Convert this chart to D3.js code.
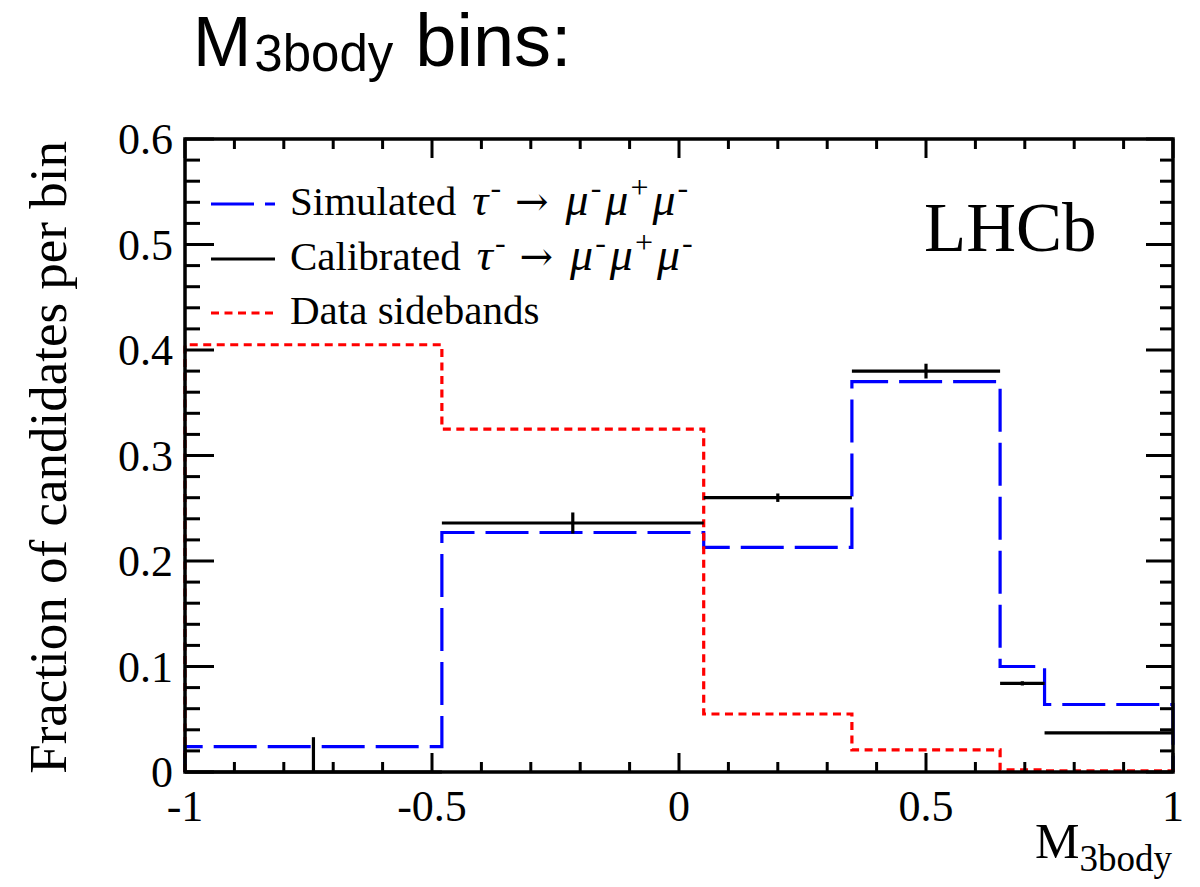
<!DOCTYPE html>
<html>
<head>
<meta charset="utf-8">
<script src="https://cdn.jsdelivr.net/npm/d3@7"></script>
<style>
  html, body { margin: 0; padding: 0; background: #fff; }
  svg { display: block; }
</style>
</head>
<body>
<div id="chart"></div>
<script>
// ---- data ----
const binEdges      = [-1, -0.48, 0.05, 0.35, 0.65, 0.74, 1];
const simulated     = [0.024, 0.227, 0.213, 0.370, 0.100, 0.064];
const calibrated    = [0.000, 0.236, 0.260, 0.380, 0.084, 0.037];
const calibratedErr = [0.033, 0.010, 0.004, 0.007, 0.002, 0.001];
const sidebands     = [0.405, 0.325, 0.055, 0.021, 0.002, 0.001];
const xTickValues   = [-1, -0.5, 0, 0.5, 1];
const xTickLabels   = ["-1", "-0.5", "0", "0.5", "1"];
const yTickValues   = [0, 0.1, 0.2, 0.3, 0.4, 0.5, 0.6];
const yTickLabels   = ["0", "0.1", "0.2", "0.3", "0.4", "0.5", "0.6"];

const W = 1200, H = 887;
const svg = d3.select("#chart").append("svg").attr("width", W).attr("height", H);
svg.append("rect").attr("width", W).attr("height", H).attr("fill", "#fff");

const pLeft = 185, pRight = 1173, pTop = 139, pBottom = 772;
const x = d3.scaleLinear().domain([-1, 1]).range([pLeft, pRight]);
const y = d3.scaleLinear().domain([0, 0.6]).range([pBottom, pTop]);

const serif = "'Liberation Serif', 'Times New Roman', serif";
const sans = "'Liberation Sans', Arial, Helvetica, sans-serif";

// ---- histogram outlines ----
function histPath(vals) {
  const pts = [[binEdges[0], 0]];
  vals.forEach((v, i) => { pts.push([binEdges[i], v]); pts.push([binEdges[i + 1], v]); });
  pts.push([binEdges[binEdges.length - 1], 0]);
  return d3.line().x(d => x(d[0])).y(d => y(d[1]))(pts);
}

const plot = svg.append("g");
plot.append("path").attr("d", histPath(simulated))
  .attr("fill", "none").attr("stroke", "#0000ff").attr("stroke-width", 3.2)
  .attr("stroke-dasharray", "43,11");
plot.append("path").attr("d", histPath(sidebands))
  .attr("fill", "none").attr("stroke", "#ff0000").attr("stroke-width", 3.2)
  .attr("stroke-dasharray", "8,5.5");

// calibrated: horizontal bin-width bars + vertical error bars
const cal = plot.append("g").attr("stroke", "#000").attr("stroke-width", 3.2);
calibrated.forEach((v, i) => {
  const x0 = binEdges[i], x1 = binEdges[i + 1], xc = (x0 + x1) / 2;
  cal.append("line").attr("x1", x(x0)).attr("x2", x(x1)).attr("y1", y(v)).attr("y2", y(v));
  cal.append("line").attr("x1", x(xc)).attr("x2", x(xc))
    .attr("y1", y(Math.max(0, v - calibratedErr[i]))).attr("y2", y(v + calibratedErr[i]));
});

// ---- frame & ticks ----
const axes = svg.append("g").attr("stroke", "#000").attr("stroke-width", 3);
const yMinor = d3.range(0, 0.6001, 0.02);
yMinor.forEach(v => {
  const major = Math.abs(Math.round(v * 10) - v * 10) < 1e-6;
  const lenL = major ? 29 : 15, lenR = major ? 27 : 13;
  axes.append("line").attr("x1", pLeft).attr("x2", pLeft + lenL).attr("y1", y(v)).attr("y2", y(v));
  axes.append("line").attr("x1", pRight).attr("x2", pRight - lenR).attr("y1", y(v)).attr("y2", y(v));
});
const xMinor = d3.range(-1, 1.0001, 0.1);
xMinor.forEach(v => {
  const major = Math.abs(Math.round(v * 2) - v * 2) < 1e-6;
  const len = major ? 19 : 10;
  axes.append("line").attr("x1", x(v)).attr("x2", x(v)).attr("y1", pBottom).attr("y2", pBottom - len);
  axes.append("line").attr("x1", x(v)).attr("x2", x(v)).attr("y1", pTop).attr("y2", pTop + len);
});
svg.append("rect").attr("x", pLeft).attr("y", pTop).attr("width", pRight - pLeft).attr("height", pBottom - pTop)
  .attr("fill", "none").attr("stroke", "#000").attr("stroke-width", 3.5);

// ---- tick labels ----
const yl = svg.append("g").attr("font-family", serif).attr("font-size", 44).attr("fill", "#000");
yTickValues.forEach((v, i) => {
  yl.append("text").attr("x", 173).attr("y", y(v) + 15).attr("text-anchor", "end").text(yTickLabels[i]);
});
const xl = svg.append("g").attr("font-family", serif).attr("font-size", 44).attr("fill", "#000");
xTickValues.forEach((v, i) => {
  xl.append("text").attr("x", x(v)).attr("y", 821).attr("text-anchor", "middle").text(xTickLabels[i]);
});

// ---- axis titles ----
svg.append("text").attr("transform", "translate(66,141) rotate(-90)")
  .attr("text-anchor", "end").attr("font-family", serif).attr("font-size", 53)
  .text("Fraction of candidates per bin");

const xt = svg.append("text").attr("x", 1172).attr("y", 858).attr("text-anchor", "end")
  .attr("font-family", serif).attr("font-size", 50);
xt.append("tspan").text("M");
xt.append("tspan").attr("font-size", 37).attr("dy", 13).text("3body");

// ---- title ----
const tt = svg.append("text").attr("x", 193).attr("y", 66).attr("font-family", sans).attr("font-size", 70);
tt.append("tspan").text("M");
tt.append("tspan").attr("dx", 3).attr("font-size", 51).attr("dy", 5).text("3body");
tt.append("tspan").attr("dx", 22).attr("font-size", 74).attr("dy", -5).text("bins:");

// ---- LHCb label ----
svg.append("text").attr("x", 924).attr("y", 251).attr("font-family", serif).attr("font-size", 69).text("LHCb");

// ---- legend ----
const legend = [
  { name: "Simulated", color: "#0000ff", dash: "43,11", decay: true },
  { name: "Calibrated", color: "#000", dash: null, decay: true },
  { name: "Data sidebands", color: "#ff0000", dash: "8,5.5", decay: false }
];
const legY = [204, 259, 313];
legend.forEach((d, i) => {
  const ly = legY[i];
  svg.append("line").attr("x1", 211).attr("x2", 275).attr("y1", ly).attr("y2", ly)
    .attr("stroke", d.color).attr("stroke-width", 3).attr("stroke-dasharray", d.dash);
  const t = svg.append("text").attr("x", 290).attr("y", ly + 11)
    .attr("font-family", serif).attr("font-size", 41).attr("fill", "#000");
  t.append("tspan").text(d.name);
  if (d.decay) {
    const sup = 32;
    t.append("tspan").attr("dx", 16).attr("font-size", 45).attr("font-style", "italic").text("τ");
    t.append("tspan").attr("font-size", sup).attr("dy", -17).attr("dx", 2).text("-");
    t.append("tspan").attr("dy", 17).attr("dx", 14).attr("font-family", "'DejaVu Serif', serif")
      .attr("font-size", 40).text("→");
    t.append("tspan").attr("dx", 17).attr("font-size", 46).attr("font-style", "italic").text("μ");
    t.append("tspan").attr("font-size", sup).attr("dy", -17).attr("dx", 2).text("-");
    t.append("tspan").attr("dy", 17).attr("dx", 4).attr("font-size", 46).attr("font-style", "italic").text("μ");
    t.append("tspan").attr("font-size", sup).attr("dy", -17).attr("dx", 2).text("+");
    t.append("tspan").attr("dy", 17).attr("dx", 4).attr("font-size", 46).attr("font-style", "italic").text("μ");
    t.append("tspan").attr("font-size", sup).attr("dy", -17).attr("dx", 2).text("-");
  }
});
</script>
</body>
</html>
